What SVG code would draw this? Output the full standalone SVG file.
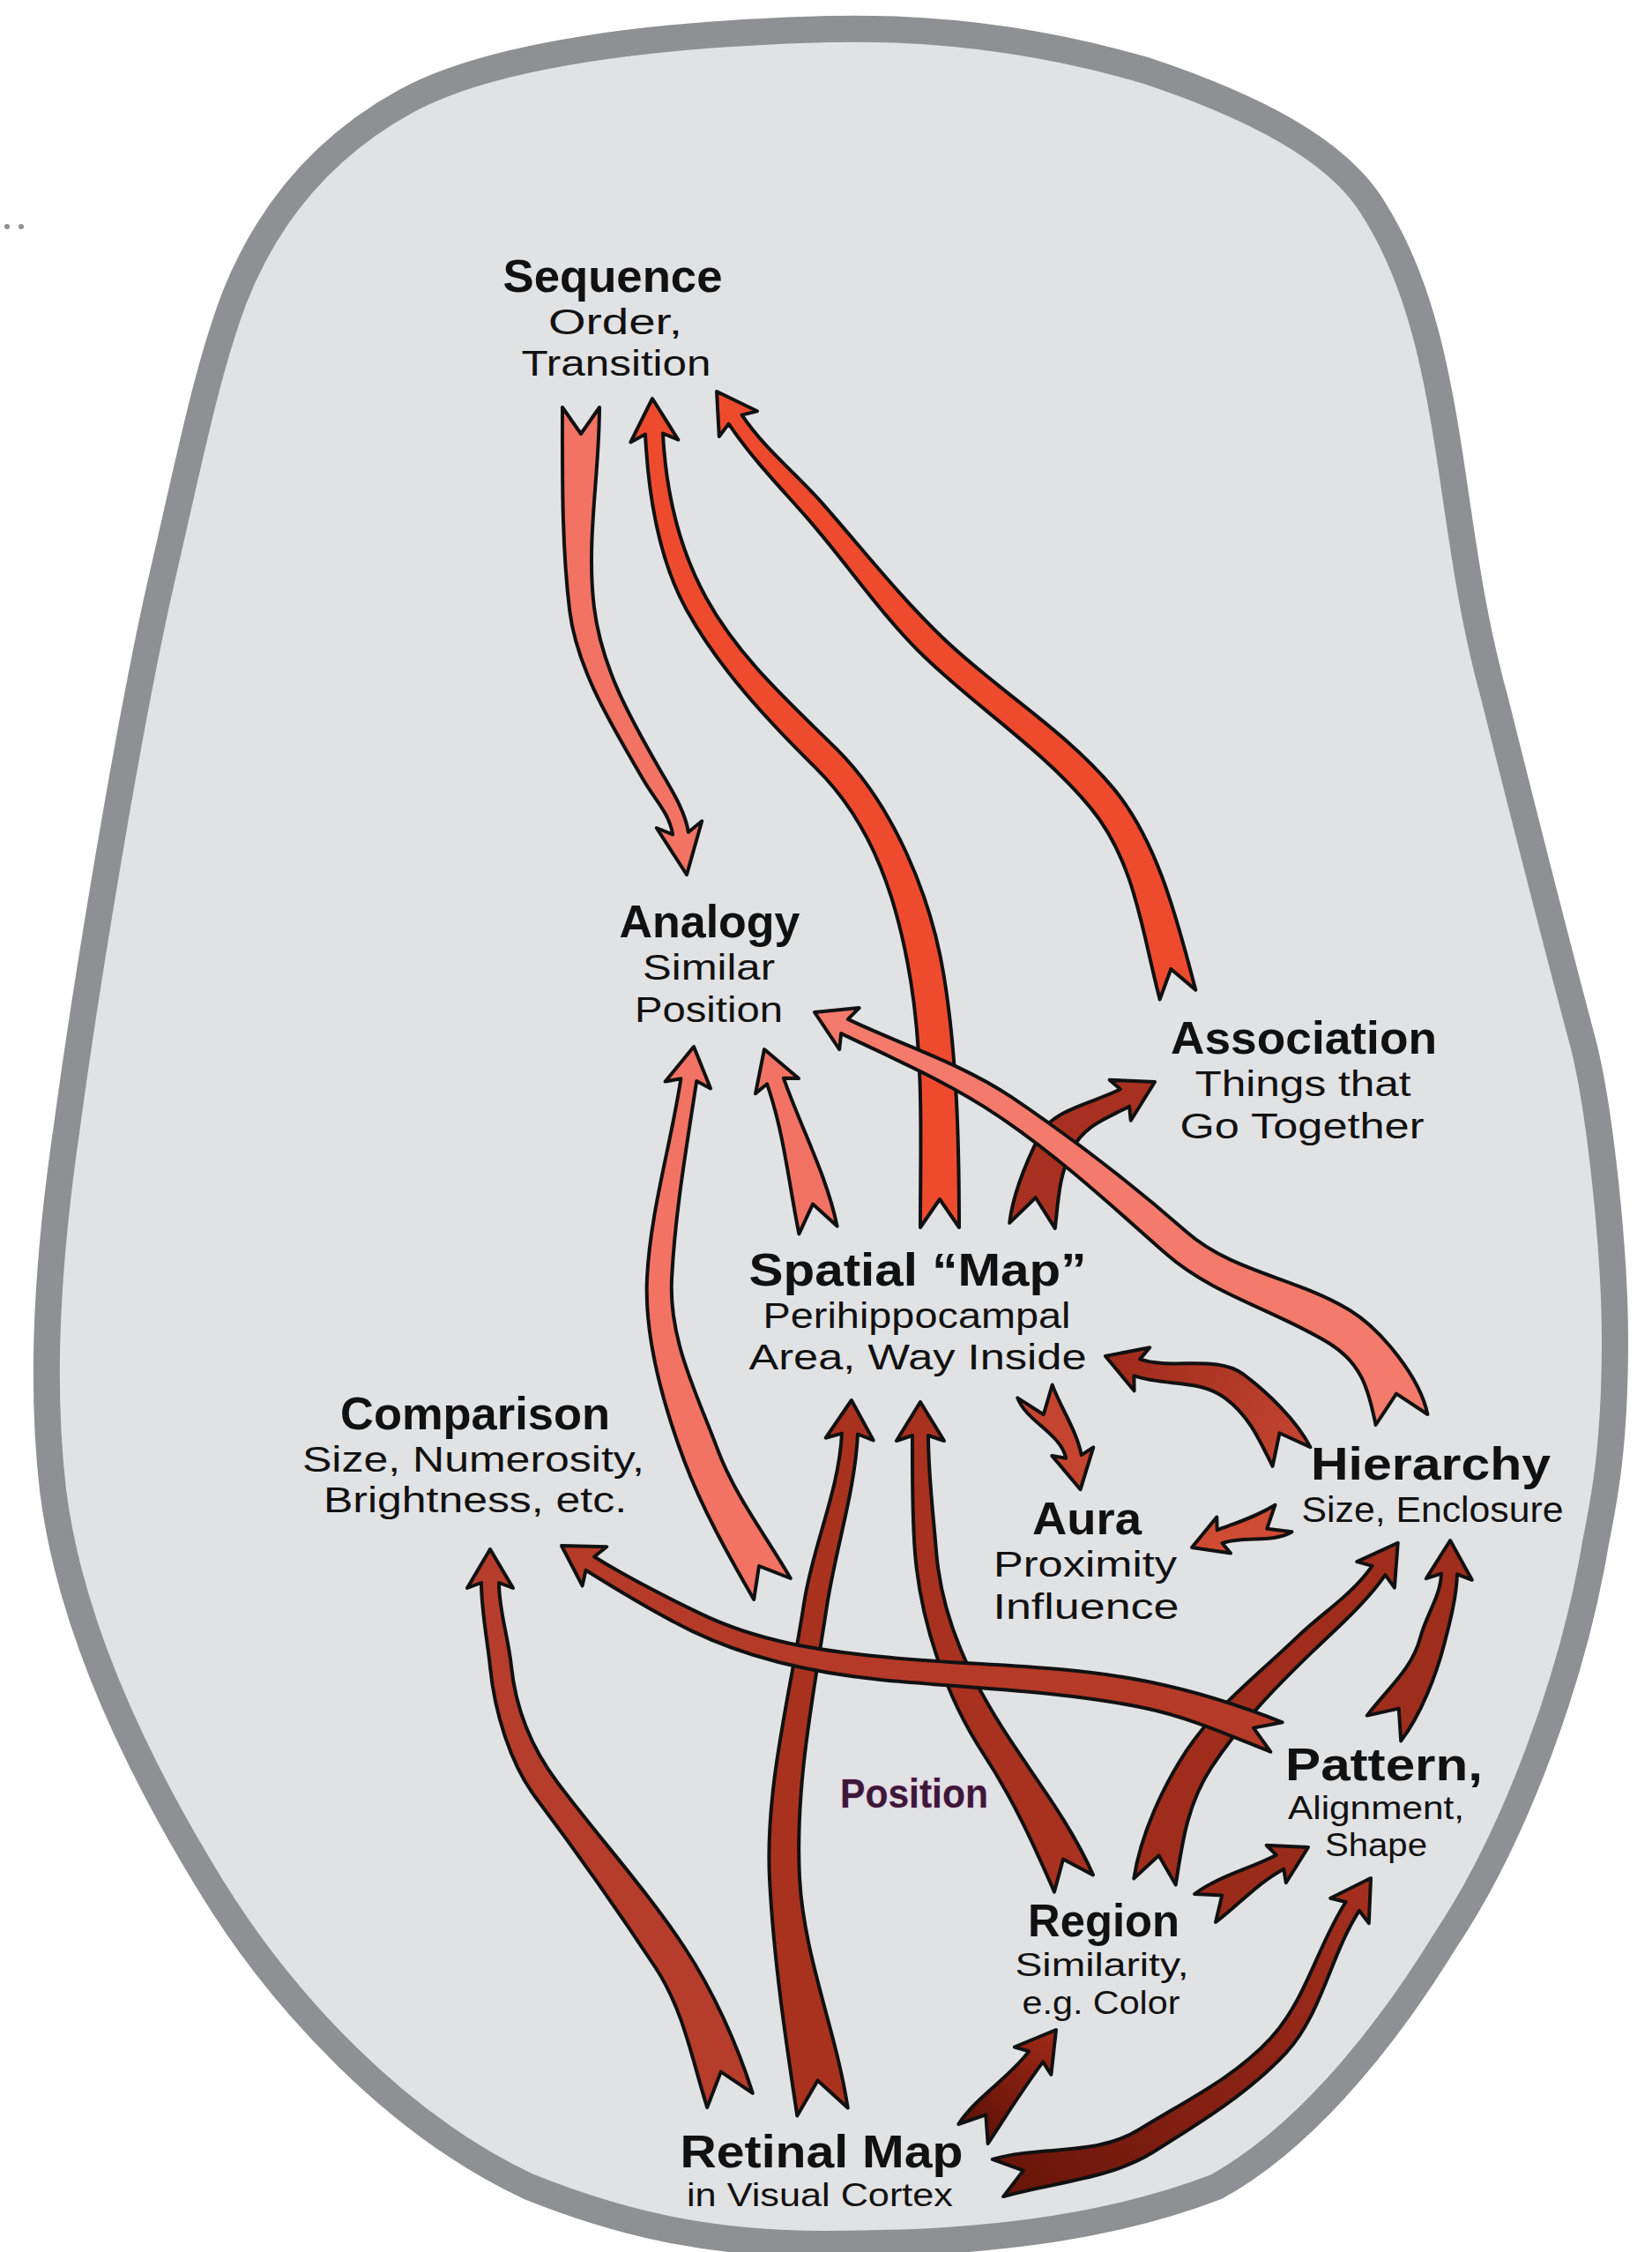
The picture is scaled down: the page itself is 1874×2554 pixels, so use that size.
<svg xmlns="http://www.w3.org/2000/svg" width="1874" height="2554" viewBox="0 0 1874 2554">
<style>
text{font-family:"Liberation Sans",Arial,sans-serif;fill:#111;text-anchor:middle}
.t{font-weight:700;font-size:52px}
.s{font-weight:400;font-size:40px}
.s37{font-weight:400;font-size:37px}
.ss{font-weight:400;font-size:36px}
.pos{font-weight:700;font-size:46px;fill:#3b1838;stroke:#e6c6e2;stroke-width:2;paint-order:stroke}
.a{stroke:#111;stroke-width:4;stroke-linejoin:round}
.lt{fill:#f27363}
.lt2{fill:#f47a6c}
.or{fill:#ee4b2e}
</style>
<defs>
<linearGradient id="g18" gradientUnits="userSpaceOnUse" x1="1100" y1="2420" x2="1190" y2="2310"><stop offset="0" stop-color="#5e1007"/><stop offset="1" stop-color="#9c2818"/></linearGradient>
<linearGradient id="g19" gradientUnits="userSpaceOnUse" x1="1140" y1="2470" x2="1550" y2="2140"><stop offset="0" stop-color="#6a150a"/><stop offset="1" stop-color="#a52f1e"/></linearGradient>
<linearGradient id="g8" gradientUnits="userSpaceOnUse" x1="1465" y1="1650" x2="1260" y2="1540"><stop offset="0" stop-color="#c24430"/><stop offset="1" stop-color="#9e2a1b"/></linearGradient>
</defs>
<rect width="1874" height="2554" fill="#fff"/>
<path d="M 940 33 C 1060 30 1180 45 1300 80 C 1420 120 1520 170 1560 240 C 1610 320 1630 420 1645 520 C 1660 620 1670 700 1695 790 C 1720 890 1755 1030 1795 1180 C 1815 1255 1832 1420 1832 1520 C 1832 1640 1820 1700 1810 1750 C 1785 1900 1720 2080 1640 2200 C 1560 2330 1470 2430 1380 2480 C 1250 2530 1100 2545 937 2545 C 800 2545 700 2520 600 2480 C 450 2410 320 2270 240 2140 C 160 2010 80 1850 60 1690 C 45 1560 55 1420 76 1277 C 100 1100 150 800 185 650 C 215 520 235 420 265 340 C 300 250 360 170 460 115 C 560 60 750 38 940 33 Z" fill="#e1e2e4" stroke="#8e9094" stroke-width="30"/>
<circle cx="8" cy="257" r="3" fill="#8e9094"/>
<circle cx="24" cy="257" r="3" fill="#8e9094"/>
<g id="connectors">
<path id="seq-analogy" class="a lt" d="M 638 462 C 638 538 637 616.2 646.1 691.7 C 654.4 760.2 696 825.7 730.5 885.5 C 742.5 906.3 759.5 922.7 763.1 946.4 L 744.8 939 L 779 992 L 796.2 931.2 L 780.9 943.7 C 777.3 920 761.5 895.3 749.5 874.5 C 715 814.7 682.2 756.8 673.9 688.3 C 664.8 612.8 680 538 680 462 L 659 492 Z"/>
<path id="map-seq" class="a or" d="M 1088 1392 C 1088 1298 1085.8 1199.8 1070.8 1107 C 1056.1 1016.5 1013.5 913 948.2 848.6 C 893.9 795.1 838.2 745.4 801.4 678.7 C 769.4 620.7 755.3 557.7 752 491.5 L 769.4 498.7 L 740 452 L 715.4 501.4 L 732 492.5 C 735.3 558.7 746.6 633.3 778.6 691.3 C 815.4 758 871.5 817.9 925.8 871.4 C 991.1 935.8 1018.5 1022.5 1033.2 1113 C 1048.2 1205.8 1044 1298 1044 1392 L 1066 1360 Z"/>
<path id="assoc-seq" class="a or" d="M 1356.3 1122.6 C 1335.9 1045.5 1314 955.4 1263.1 894.1 C 1208.8 828.7 1131.8 783 1070.4 724.2 C 1020.9 676.8 979.1 623.6 934 572.1 C 903.6 537.4 867.2 509 841.6 470.6 L 859 466.2 L 813 444 L 815.8 495 L 826.6 480.6 C 852.2 519 885.6 553.2 916 587.9 C 961.1 639.4 1000.1 698.4 1049.6 745.8 C 1111 804.6 1182.6 850.5 1236.9 915.9 C 1287.8 977.2 1295.3 1056.3 1315.7 1133.4 L 1328.3 1099 Z"/>
<path id="map-analogy" class="a lt" d="M 949.6 1390.6 C 937.9 1333.2 908.2 1278 888.9 1222.7 L 906 1223.1 L 867 1190 L 857 1240.3 L 870.1 1229.3 C 889.4 1284.6 894.7 1342 906.4 1399.4 L 922 1365.6 Z"/>
<path id="low-analogy" class="a lt" d="M 896.8 1790 C 868.1 1740.3 833.8 1696.8 813.7 1643 C 789.7 1578.8 758.6 1519.1 762 1450.7 C 765.8 1374.9 778.8 1301.1 790.2 1226 L 806.1 1234.4 L 787 1187 L 754.7 1226.6 L 772.4 1223.3 C 761 1298.4 737.8 1373.5 734 1449.3 C 730.6 1517.7 752.3 1592.8 776.3 1657 C 796.4 1710.8 826.5 1764.3 855.2 1814 L 861 1776 Z"/>
<path id="map-assoc" class="a" fill="#a83020" d="M 1196.8 1393.1 C 1200.7 1360.4 1201.1 1333.4 1215.9 1304 C 1229.8 1276.4 1253.8 1269.1 1281.1 1254.7 L 1282.8 1270.8 L 1310 1227 L 1258.6 1224.8 L 1270.9 1235.3 C 1243.6 1249.7 1194 1258.4 1180.1 1286 C 1165.3 1315.4 1149.1 1354.2 1145.2 1386.9 L 1174.8 1358.2 Z"/>
<path id="hier-analogy" class="a lt2" d="M 1619.4 1604 C 1611 1562.7 1567.5 1508.6 1531.7 1486.3 C 1472.8 1449.6 1398.2 1443 1346.2 1397.3 C 1283.9 1342.5 1216.2 1290.7 1147.3 1244.2 C 1091 1206.2 1023.1 1185.2 961.9 1155.9 L 974.6 1143.1 L 924 1148 L 952.2 1190.1 L 954.1 1172.1 C 1015.3 1201.4 1076.4 1227.8 1132.7 1265.8 C 1201.6 1312.3 1261.5 1368 1323.8 1422.8 C 1375.8 1468.5 1449.4 1487 1508.3 1523.7 C 1544.1 1546 1552.2 1574.7 1560.6 1616 L 1584 1580.6 Z"/>
<path id="hier-map" class="a" fill="url(#g8)" d="M 1486.4 1641.2 C 1470.9 1610.5 1437.7 1579 1410.2 1558.4 C 1380.3 1536 1328.4 1554 1293.2 1541.4 L 1304.2 1528.3 L 1254 1538 L 1286.6 1577.3 L 1286.4 1560.2 C 1321.6 1572.8 1359.9 1563.2 1389.8 1585.6 C 1417.3 1606.2 1428.1 1632.1 1443.6 1662.8 L 1451.5 1625.2 Z"/>
<path id="map-aura" class="a" fill="#c5442f" d="M 1154.3 1585.4 C 1164.3 1612.3 1203.5 1625.7 1209.2 1653.8 L 1193.3 1650.9 L 1225.6 1689.2 L 1240.3 1641.3 L 1226.8 1650.2 C 1221.1 1622.1 1203.7 1597.5 1193.7 1570.6 L 1183.8 1604.2 Z"/>
<path id="hier-aura" class="a" fill="#d04b34" d="M 1446.5 1706.7 C 1425.2 1720 1404 1726.4 1380.7 1735.4 L 1380.3 1720.5 L 1352 1755 L 1396.1 1761.5 L 1386.5 1750.2 C 1409.8 1741.2 1444.2 1750.6 1465.5 1737.3 L 1437.3 1733.7 Z"/>
<path id="retinal-comparison" class="a" fill="#b63c2b" d="M 853.8 2373.9 C 836.2 2318 808.9 2257.9 776.7 2209 C 733.4 2143.3 679.2 2084 632 2021 C 602.1 1981.2 584.9 1938.4 579.9 1888.8 C 576.7 1857.1 566 1826.9 566 1795 L 582 1801 L 556 1757 L 530 1801 L 546 1795 C 546 1826.9 552.9 1859.5 556.1 1891.2 C 561.1 1940.8 578.1 1999.2 608 2039 C 655.2 2102 700 2165.3 743.3 2231 C 775.5 2279.9 784.6 2334.2 802.2 2390.1 L 817.8 2349.6 Z"/>
<path id="retinal-map" class="a" fill="#a9321f" d="M 961.7 2390.6 C 948.3 2302.1 911.5 2218.6 907 2129.2 C 901.8 2025.3 922.3 1924.9 937.9 1822 C 947.8 1756.7 969.7 1692.4 973 1626.5 L 990.7 1633.4 L 965.9 1588 L 936.7 1630.7 L 955 1625.6 C 951.7 1691.5 922 1752.7 912.1 1818 C 896.5 1920.9 867.8 2027 873 2130.9 C 877.5 2220.3 890.9 2310.9 904.3 2399.4 L 927.6 2359.4 Z"/>
<path id="region-map" class="a" fill="#a8311f" d="M 1240 2126.4 C 1216.1 2071.7 1177 2020.5 1144.2 1970.7 C 1101.3 1905.6 1068.2 1836.8 1062 1759 C 1058.5 1715.1 1053 1672 1053 1628 L 1071 1634 L 1044 1590 L 1017 1634 L 1035 1628 C 1035 1672 1034.5 1717.1 1038 1761 C 1044.2 1838.8 1072.9 1924.3 1115.8 1989.4 C 1148.6 2039.2 1172.1 2090.9 1196 2145.6 L 1206 2108.5 Z"/>
<path id="region-hier" class="a" fill="#a02d1c" d="M 1333.7 2137.6 C 1341.1 2088.9 1347.1 2045.5 1374.2 2004.4 C 1406.7 1955.1 1445.8 1914.5 1488.3 1873.6 C 1516.8 1846.1 1548.8 1818.6 1571.4 1786.1 L 1581.9 1800.7 L 1585.7 1749.8 L 1539.3 1771.1 L 1556.6 1775.9 C 1534 1808.4 1500.2 1828.9 1471.7 1856.4 C 1429.2 1897.3 1378.3 1936.3 1345.8 1985.6 C 1318.7 2026.7 1293.7 2081.7 1286.3 2130.4 L 1314.5 2104.3 Z"/>
<path id="pattern-hier" class="a" fill="#9f2d1c" d="M 1589.2 1974.4 C 1612 1944 1629.1 1900.3 1638.6 1863.5 C 1645.1 1838.5 1652.2 1811.1 1653 1785.3 L 1669.8 1791.8 L 1645.1 1747 L 1617.8 1790.2 L 1635 1784.7 C 1634.2 1810.5 1617.9 1831.5 1611.4 1856.5 C 1601.9 1893.3 1573.6 1915.2 1550.8 1945.6 L 1586.8 1937.6 Z"/>
<path id="pattern-comparison" class="a" fill="#b53a28" d="M 1454.7 1953.3 C 1406.4 1934.1 1353.9 1917.7 1303 1907.3 C 1204.5 1887.2 1101.3 1889.2 1001.3 1879.1 C 929.6 1871.9 859.7 1861.5 794.8 1830.1 C 753.4 1810.1 713.2 1789.9 674.1 1765.5 L 688.2 1754.2 L 637 1753 L 660.6 1798.4 L 664.5 1780.8 C 703.6 1805.2 743.8 1829.9 785.2 1849.9 C 850.1 1881.3 927 1897.7 998.7 1904.9 C 1098.7 1915 1198.5 1916.6 1297 1936.7 C 1347.9 1947.1 1393 1967.5 1441.3 1986.7 L 1422 1959.6 Z"/>
<path id="region-pattern" class="a" fill="#9a2b1a" d="M 1379 2180 C 1405.6 2160 1426.8 2135.2 1456.3 2119.7 L 1458.8 2135.3 L 1484 2095 L 1436.6 2092.7 L 1447.9 2103.7 C 1418.4 2119.2 1381.6 2128 1355 2148 L 1386.2 2149.6 Z"/>
<path id="retinal-region" class="a" fill="url(#g18)" d="M 1120.7 2431 C 1141.4 2399.6 1160.6 2368.5 1183.2 2338.4 L 1192.4 2352.8 L 1198 2302 L 1150.8 2321.6 L 1167.2 2326.4 C 1144.6 2356.5 1108 2377.6 1087.3 2409 L 1118.3 2398.3 Z"/>
<path id="retinal-pattern" class="a" fill="url(#g19)" d="M 1138.2 2491.1 C 1193.6 2474.9 1259 2471.4 1308 2440.8 C 1360.4 2408.2 1416.9 2373.4 1458.8 2328.2 C 1499.4 2284.4 1509.4 2216.9 1541.9 2166.8 L 1552.8 2181.1 L 1555 2130 L 1509.2 2152.7 L 1526.7 2157 C 1494.2 2207.1 1481.8 2268 1441.2 2311.8 C 1399.3 2357 1344.4 2382.7 1292 2415.3 C 1243 2445.9 1181.2 2432.7 1125.8 2448.9 L 1160.8 2461.6 Z"/>
</g>
<g id="node-sequence">
<text><tspan class="t" x="695" y="331" textLength="249" lengthAdjust="spacingAndGlyphs">Sequence</tspan><tspan class="s" x="698" y="379" textLength="152" lengthAdjust="spacingAndGlyphs">Order,</tspan><tspan class="s" x="699" y="426" textLength="215" lengthAdjust="spacingAndGlyphs">Transition</tspan></text>
</g>
<g id="node-analogy">
<text><tspan class="t" x="805" y="1063" textLength="205" lengthAdjust="spacingAndGlyphs">Analogy</tspan><tspan class="s" x="804" y="1111" textLength="150" lengthAdjust="spacingAndGlyphs">Similar</tspan><tspan class="s" x="804" y="1159" textLength="168" lengthAdjust="spacingAndGlyphs">Position</tspan></text>
</g>
<g id="node-association">
<text><tspan class="t" x="1479" y="1195" textLength="302" lengthAdjust="spacingAndGlyphs">Association</tspan><tspan class="s" x="1478" y="1243" textLength="245" lengthAdjust="spacingAndGlyphs">Things that</tspan><tspan class="s" x="1477" y="1291" textLength="277" lengthAdjust="spacingAndGlyphs">Go Together</tspan></text>
</g>
<g id="node-spatial-map">
<text><tspan class="t" x="1041" y="1458" textLength="383" lengthAdjust="spacingAndGlyphs">Spatial “Map”</tspan><tspan class="s" x="1040" y="1506" textLength="349" lengthAdjust="spacingAndGlyphs">Perihippocampal</tspan><tspan class="s" x="1041" y="1553" textLength="383" lengthAdjust="spacingAndGlyphs">Area, Way Inside</tspan></text>
</g>
<g id="node-comparison">
<text><tspan class="t" x="539" y="1621" textLength="306" lengthAdjust="spacingAndGlyphs">Comparison</tspan><tspan class="s" x="537" y="1669" textLength="388" lengthAdjust="spacingAndGlyphs">Size, Numerosity,</tspan><tspan class="s" x="539" y="1715" textLength="344" lengthAdjust="spacingAndGlyphs">Brightness, etc.</tspan></text>
</g>
<g id="node-hierarchy">
<text><tspan class="t" x="1623" y="1678" textLength="272" lengthAdjust="spacingAndGlyphs">Hierarchy</tspan><tspan class="s" x="1625" y="1726" textLength="297" lengthAdjust="spacingAndGlyphs">Size, Enclosure</tspan></text>
</g>
<g id="node-aura">
<text><tspan class="t" x="1233" y="1740" textLength="124" lengthAdjust="spacingAndGlyphs">Aura</tspan><tspan class="s" x="1231" y="1788" textLength="208" lengthAdjust="spacingAndGlyphs">Proximity</tspan><tspan class="s" x="1232" y="1836" textLength="211" lengthAdjust="spacingAndGlyphs">Influence</tspan></text>
</g>
<g id="node-pattern">
<text><tspan class="t" x="1570" y="2019" textLength="224" lengthAdjust="spacingAndGlyphs">Pattern,</tspan><tspan class="ss" x="1561" y="2063" textLength="200" lengthAdjust="spacingAndGlyphs">Alignment,</tspan><tspan class="ss" x="1561" y="2105" textLength="116" lengthAdjust="spacingAndGlyphs">Shape</tspan></text>
</g>
<g id="label-position">
<text class="pos" x="1037" y="2050" textLength="168" lengthAdjust="spacingAndGlyphs">Position</text>
</g>
<g id="node-region">
<text><tspan class="t" x="1252" y="2196" textLength="172" lengthAdjust="spacingAndGlyphs">Region</tspan><tspan class="s37" x="1250" y="2241" textLength="197" lengthAdjust="spacingAndGlyphs">Similarity,</tspan><tspan class="s37" x="1249" y="2284" textLength="179" lengthAdjust="spacingAndGlyphs">e.g. Color</tspan></text>
</g>
<g id="node-retinal-map">
<text><tspan class="t" x="932" y="2458" textLength="321" lengthAdjust="spacingAndGlyphs">Retinal Map</tspan><tspan class="ss" x="930" y="2502" textLength="302" lengthAdjust="spacingAndGlyphs">in Visual Cortex</tspan></text>
</g>
</svg>
